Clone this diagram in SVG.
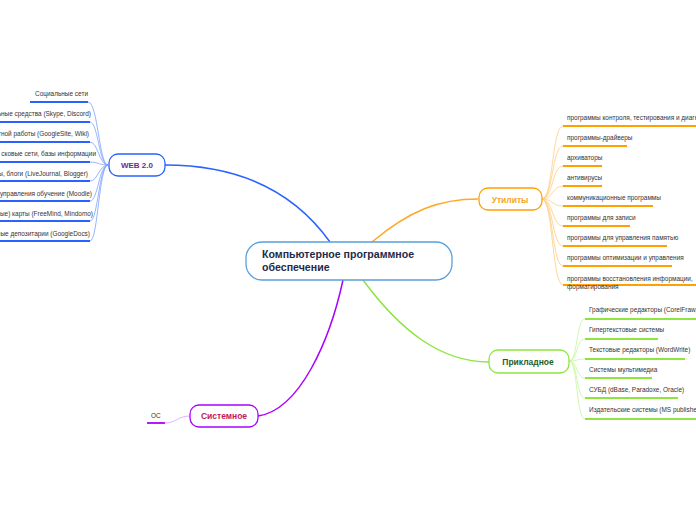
<svg xmlns="http://www.w3.org/2000/svg" width="696" height="520" viewBox="0 0 696 520">
<style>
.leaf{font-family:"Liberation Sans",Arial,sans-serif;font-size:6.45px;fill:#333}
.node{fill:#fff;stroke-width:1.3}
.ntxt{font-family:"Liberation Sans",Arial,sans-serif;font-weight:bold;text-anchor:middle}
.c{fill:none}
</style>
<rect width="696" height="520" fill="#fff"/>
<g id="connectors">
  <path class="c" d="M330,242 C300,200 250,165 165,165" stroke="#2962ff" stroke-width="1.5"/>
  <path class="c" d="M372,242 C410,210 440,199 478,199" stroke="#ffa726" stroke-width="1.5"/>
  <path class="c" d="M363,280 C400,330 440,362 489,362" stroke="#8ee53f" stroke-width="1.5"/>
  <path class="c" d="M343,280 C330,340 300,410 258,416" stroke="#aa00ff" stroke-width="1.5"/>
  <g stroke="#7aa2ff" stroke-width="0.8" fill="none">
    <path d="M108,165 C99,165 98,102 88,102"/>
    <path d="M108,165 C99,165 98,122 90,122"/>
    <path d="M108,165 C99,165 98,142 90,142"/>
    <path d="M108,165 C99,165 98,162 90,162"/>
    <path d="M108,165 C99,165 98,181 90,181"/>
    <path d="M108,165 C99,165 98,201 90,201"/>
    <path d="M108,165 C99,165 98,221 90,221"/>
    <path d="M108,165 C99,165 98,241 90,241"/>
  </g>
  <g stroke="#2962ff" stroke-width="2" fill="none">
    <path d="M30,102 H88"/>
    <path d="M0,122 H90"/>
    <path d="M0,142 H90"/>
    <path d="M0,162 H90"/>
    <path d="M0,181 H90"/>
    <path d="M0,201 H90"/>
    <path d="M0,221 H90"/>
    <path d="M0,241 H90"/>
  </g>
  <g stroke="#ffcc80" stroke-width="0.8" fill="none">
    <path d="M542,199 C553,199 552,126 563,126"/>
    <path d="M542,199 C553,199 552,146 563,146"/>
    <path d="M542,199 C553,199 552,166 563,166"/>
    <path d="M542,199 C553,199 552,186 563,186"/>
    <path d="M542,199 C553,199 552,206 563,206"/>
    <path d="M542,199 C553,199 552,226 563,226"/>
    <path d="M542,199 C553,199 552,246 563,246"/>
    <path d="M542,199 C553,199 552,266 563,266"/>
    <path d="M542,199 C553,199 552,285 563,285"/>
  </g>
  <g stroke="#ffa000" stroke-width="1.8" fill="none">
    <path d="M563,126 H696"/>
    <path d="M563,146 H627"/>
    <path d="M563,166 H602"/>
    <path d="M563,186 H602"/>
    <path d="M563,206 H653"/>
    <path d="M563,226 H630"/>
    <path d="M563,246 H667"/>
    <path d="M563,266 H672"/>
    <path d="M563,285 H696"/>
  </g>
  <g stroke="#c5f59a" stroke-width="0.8" fill="none">
    <path d="M569,361 C578,361 576,319 585,319"/>
    <path d="M569,361 C578,361 576,339 585,339"/>
    <path d="M569,361 C578,361 576,359 585,359"/>
    <path d="M569,361 C578,361 576,378 585,378"/>
    <path d="M569,361 C578,361 576,398 585,398"/>
    <path d="M569,361 C578,361 576,419 585,419"/>
  </g>
  <g stroke="#8ee53f" stroke-width="1.8" fill="none">
    <path d="M585,319 H696"/>
    <path d="M585,339 H658"/>
    <path d="M585,359 H685"/>
    <path d="M585,378 H652"/>
    <path d="M585,398 H678"/>
    <path d="M585,419 H696"/>
  </g>
  <path class="c" d="M190,416 C178,416 176,423 165,423" stroke="#d9a0ff" stroke-width="0.8"/>
  <path class="c" d="M147,423 H165" stroke="#aa00ff" stroke-width="1.8"/>
</g>
<g id="center">
  <rect class="node" x="246" y="242" width="206" height="38" rx="16" stroke="#5aa0dc"/>
  <text x="262" y="258" font-family="Liberation Sans,Arial,sans-serif" font-weight="bold" font-size="10.6" fill="#1e2a4a">Компьютерное программное</text>
  <text x="262" y="271" font-family="Liberation Sans,Arial,sans-serif" font-weight="bold" font-size="10.6" fill="#1e2a4a">обеспечение</text>
</g>
<g id="web20">
  <rect class="node" x="109" y="154" width="56" height="22" rx="9" stroke="#2962ff"/>
  <text class="ntxt" x="137" y="168" font-size="8" fill="#6a2c91">WEB 2.0</text>
</g>
<g id="web-leaves" class="leaf" text-anchor="end">
  <text x="88" y="96">Социальные сети</text>
  <text x="91" y="116">льные средства (Skype, Discord)</text>
  <text x="89" y="136">стной работы (GoogleSite, Wiki)</text>
  <text x="96" y="156">сковые сети, базы информации</text>
  <text x="88" y="176">ы, блоги (LiveJournal, Blogger)</text>
  <text x="92" y="196">управления обучение (Moodle)</text>
  <text x="93" y="216">ные) карты (FreeMind, Mindomo)</text>
  <text x="90" y="236">ные депозитарии (GoogleDocs)</text>
</g>
<g id="utility">
  <rect class="node" x="479" y="188" width="63" height="22" rx="9" stroke="#ffa000"/>
  <text class="ntxt" x="510" y="203" font-size="8.5" fill="#f5a623">Утилиты</text>
</g>
<g id="utility-leaves" class="leaf">
  <text x="567" y="120">программы контроля, тестирования и диагностики</text>
  <text x="567" y="140">программы-драйверы</text>
  <text x="567" y="160">архиваторы</text>
  <text x="567" y="180">антивирусы</text>
  <text x="567" y="200">коммуникационные программы</text>
  <text x="567" y="220">программы для записи</text>
  <text x="567" y="240">программы для управления памятью</text>
  <text x="567" y="260">программы оптимизации и управления</text>
  <text x="567" y="281">программы восстановления информации,</text>
  <text x="567" y="289">форматирования</text>
</g>
<g id="applied">
  <rect class="node" x="489" y="350" width="80" height="23" rx="9" stroke="#8ee53f"/>
  <text class="ntxt" x="528" y="365" font-size="8.5" fill="#1d5e2a">Прикладное</text>
</g>
<g id="applied-leaves" class="leaf">
  <text x="589" y="312">Графические редакторы (CorelFraw,</text>
  <text x="589" y="332">Гипертекстовые системы</text>
  <text x="589" y="352">Текстовые редакторы (WordWrite)</text>
  <text x="589" y="372">Системы мультимедиа</text>
  <text x="589" y="392">СУБД (dBase, Paradoxe, Oracle)</text>
  <text x="589" y="412">Издательские системы (MS publisher)</text>
</g>
<g id="system">
  <rect class="node" x="190" y="405" width="68" height="22" rx="9" stroke="#aa00ff"/>
  <text class="ntxt" x="224" y="419" font-size="8.5" fill="#c2185b">Системное</text>
</g>
<g id="system-leaves" class="leaf">
  <text x="151" y="418">ОС</text>
</g>
</svg>
